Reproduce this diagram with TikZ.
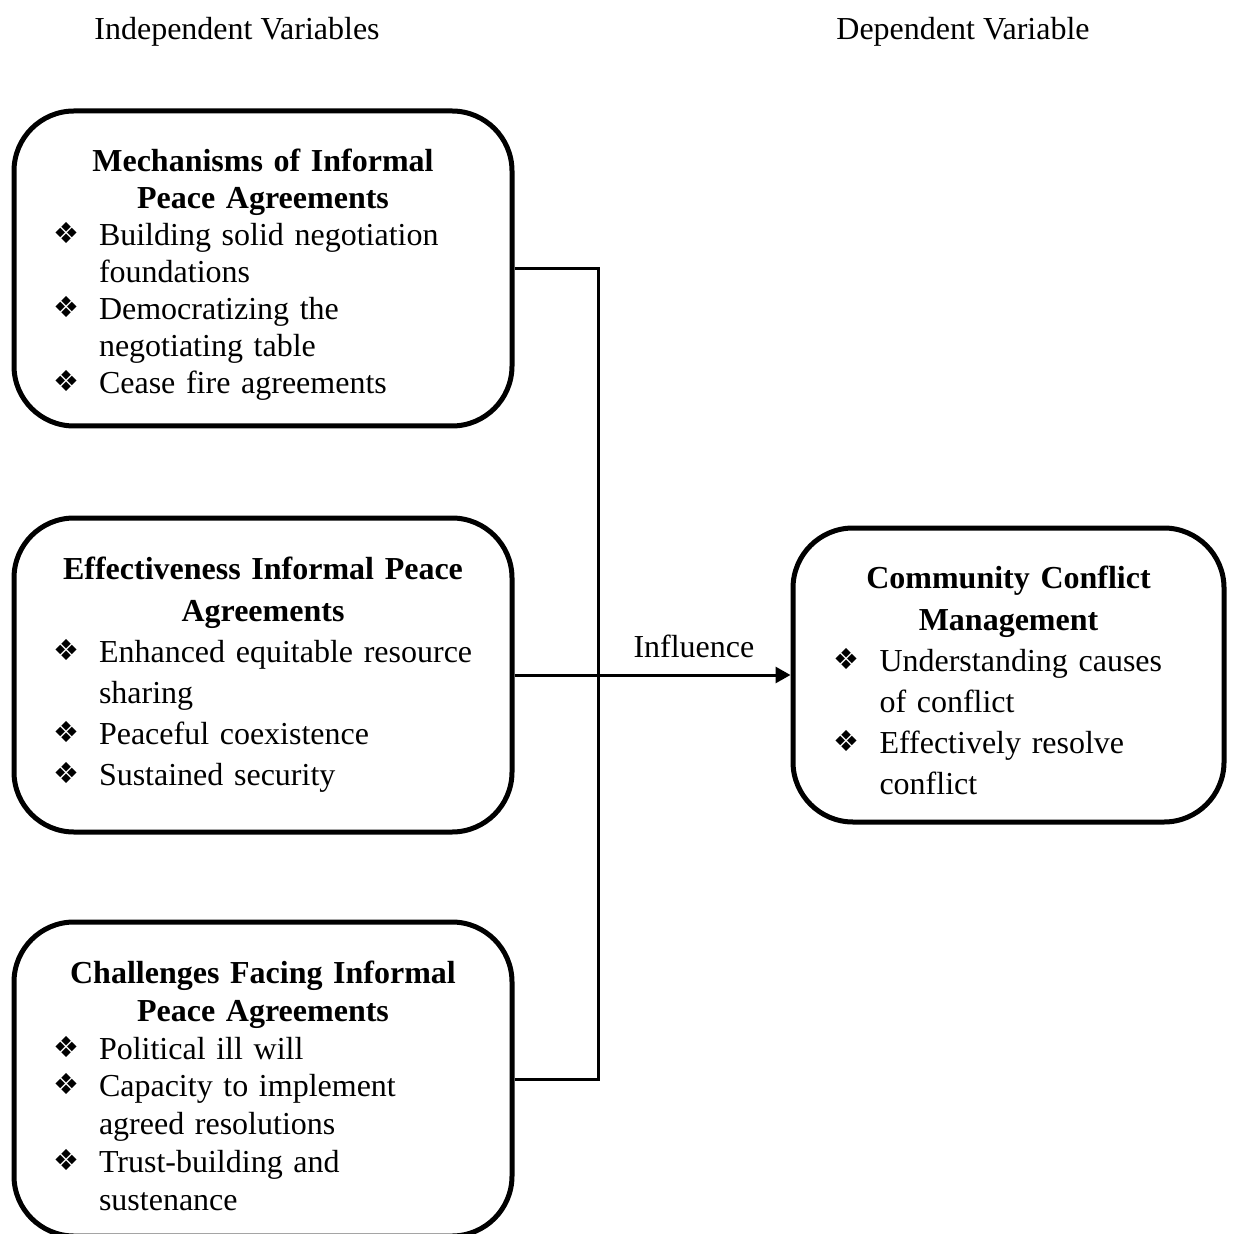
\documentclass[tikz,border=0pt]{standalone}
\usepackage{fontspec}
\setmainfont{Liberation Serif}
\newfontfamily\bulletfont{DejaVu Sans}
\usetikzlibrary{arrows.meta}
\hyphenpenalty=10000
\exhyphenpenalty=10000
\newcommand{\ditem}{\par\hangindent=23pt\hangafter=1\noindent\makebox[23pt][l]{\raisebox{1pt}{\bulletfont\fontsize{14.5}{14.5}\selectfont\char"2756}}}
\newcommand{\dtitle}[2][17pt]{{\centering\bfseries\rule{0pt}{#1}#2\par}}
\begin{document}
\begin{tikzpicture}[
        x=0.5pt, y=-0.5pt,
        every node/.style={font=\fontsize{16}{18.5}\selectfont},
        box/.style={draw, line width=2.5pt, rounded corners=30pt, inner sep=0pt, align=left,
            minimum width=249pt, text width=210pt, minimum height=157pt},
        wide/.style={font=\fontsize{16}{20.6}\selectfont},
        conn/.style={draw, line width=1.5pt},
        arrowline/.style={conn, -{Triangle[length=7.5pt, width=8pt]}}
    ]
    \useasboundingbox (0,0) rectangle (1233,1234);
    \node (indep) at (237,32) {Independent Variables};
    \node (dep) at (963,32) {Dependent Variable};
    \node[box, minimum height=157.5pt] (mech) at (263,268.5) {
        \dtitle{Mechanisms of Informal\\Peace Agreements}
        \ditem Building solid negotiation\newline foundations
        \ditem Democratizing the\newline negotiating table
        \ditem Cease fire agreements\par};
    \node[box, wide] (eff) at (263,675) {
        \dtitle[0pt]{Effectiveness Informal Peace\\Agreements}
        \ditem Enhanced equitable resource\newline sharing
        \ditem Peaceful coexistence
        \ditem Sustained security\par};
    \node[box, font=\fontsize{16}{18.9}\selectfont] (chal) at (263,1079) {
        \dtitle[18pt]{Challenges Facing Informal\\Peace Agreements}
        \ditem Political ill will
        \ditem Capacity to implement\newline agreed resolutions
        \ditem Trust-building and\newline sustenance\par};
    \node[box, wide, minimum width=215.5pt, text width=175pt, minimum height=147pt] (comm) at (1008.5,675) {
        \dtitle{Community Conflict\\Management}
        \ditem Understanding causes\newline of conflict
        \ditem Effectively resolve\newline conflict\par};
    \coordinate (trunk) at (598,0);
    \draw[conn] (mech.east) -- (mech.east -| trunk) -- (chal.east -| trunk) -- (chal.east);
    \draw[arrowline] (eff.east) -- (comm.west)
        node[pos=0.65, above=4.5pt] (infl) {Influence};
\end{tikzpicture}
\end{document}
